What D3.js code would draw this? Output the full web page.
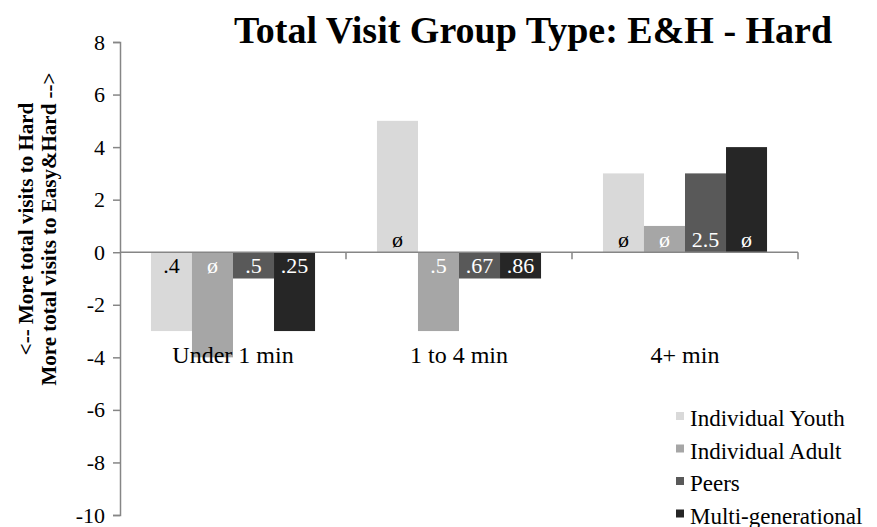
<!DOCTYPE html>
<html>
<head>
<meta charset="utf-8">
<script src="https://cdn.jsdelivr.net/npm/d3@7"></script>
<style>
  html, body { margin: 0; padding: 0; background: #fff; }
  svg { display: block; }
  svg text { font-family: "Liberation Serif", "Times New Roman", serif; }
</style>
</head>
<body>
<svg id="chart" width="877" height="527"></svg>
<script>
// Duration bins along the x axis
const categories = ["Under 1 min", "1 to 4 min", "4+ min"];

// Visitor group types (one bar each per bin)
const seriesNames = ["Individual Youth", "Individual Adult", "Peers", "Multi-generational"];
const seriesColors = ["#d9d9d9", "#a6a6a6", "#595959", "#262626"];
const labelColors = ["#000000", "#ffffff", "#ffffff", "#ffffff"];

// Difference in total visits (Easy&Hard minus Hard), per group type
const youthValues = [-3, 5, 3];
const adultValues = [-4, -3, 1];
const peersValues = [-1, -1, 3];
const multiValues = [-3, -1, 4];

// Text printed on each bar
const youthLabels = [".4", "ø", "ø"];
const adultLabels = ["ø", ".5", "ø"];
const peersLabels = [".5", ".67", "2.5"];
const multiLabels = [".25", ".86", "ø"];

const yTicks = [-10, -8, -6, -4, -2, 0, 2, 4, 6, 8];

const seriesValues = [youthValues, adultValues, peersValues, multiValues];
const seriesLabels = [youthLabels, adultLabels, peersLabels, multiLabels];

const rows = [];
categories.forEach((c, ci) => {
  seriesNames.forEach((s, si) => {
    rows.push({ cat: c, series: s, si, value: seriesValues[si][ci], label: seriesLabels[si][ci] });
  });
});

const svg = d3.select("#chart");
const axisColor = "#868686";
const serif = "'Liberation Serif', 'Times New Roman', serif";

const plot = { left: 120, right: 798, top: 42, bottom: 515 };

const y = d3.scaleLinear().domain([-10, 8]).range([plot.bottom, plot.top]);
const x = d3.scaleBand().domain(categories).range([plot.left, plot.right]).padding(0);
const xs = d3.scaleBand().domain(seriesNames)
  .range([x.bandwidth() * 0.137, x.bandwidth() * 0.863]).padding(0);

// Bars
svg.append("g").selectAll("rect")
  .data(rows)
  .join("rect")
  .attr("x", d => x(d.cat) + xs(d.series))
  .attr("width", xs.bandwidth())
  .attr("y", d => y(Math.max(0, d.value)))
  .attr("height", d => Math.abs(y(d.value) - y(0)))
  .attr("fill", d => seriesColors[d.si]);

// Y axis (plain hyphen for negatives)
const yAxis = d3.axisLeft(y).tickValues(yTicks).tickSize(7).tickPadding(8).tickFormat(d => String(d));
const gy = svg.append("g").attr("transform", `translate(${plot.left},0)`).call(yAxis);
gy.attr("font-family", serif).attr("font-size", 22);
gy.select(".domain").attr("stroke", axisColor).attr("stroke-width", 1.5);
gy.selectAll(".tick line").attr("stroke", axisColor).attr("stroke-width", 1.5);
gy.selectAll(".tick text").attr("fill", "#000");

// Zero baseline with category boundary ticks
const gx = svg.append("g").attr("transform", `translate(0,${y(0)})`);
gx.append("line")
  .attr("x1", plot.left).attr("x2", plot.right)
  .attr("stroke", axisColor).attr("stroke-width", 1.5);
gx.selectAll("line.ctick")
  .data(categories)
  .join("line")
  .attr("class", "ctick")
  .attr("x1", d => x(d) + x.bandwidth()).attr("x2", d => x(d) + x.bandwidth())
  .attr("y1", 0).attr("y2", 7)
  .attr("stroke", axisColor).attr("stroke-width", 1.5);

// Category names, placed below the zero line
svg.append("g").selectAll("text")
  .data(categories)
  .join("text")
  .attr("x", d => x(d) + x.bandwidth() / 2)
  .attr("y", y(0) + 111)
  .attr("text-anchor", "middle")
  .style("font-size", "24px")
  .text(d => d);

// Bar value labels, inside each bar next to the zero line
svg.append("g").selectAll("text")
  .data(rows)
  .join("text")
  .attr("x", d => x(d.cat) + xs(d.series) + xs.bandwidth() / 2)
  .attr("y", d => d.value < 0 ? y(0) + 21 : y(0) - 5)
  .attr("text-anchor", "middle")
  .attr("fill", d => labelColors[d.si])
  .style("font-size", "22px")
  .text(d => d.label);

// Title
svg.append("text")
  .attr("x", 533)
  .attr("y", 43)
  .attr("text-anchor", "middle")
  .style("font-size", "38px")
  .style("font-weight", "bold")
  .text("Total Visit Group Type: E&H - Hard");

// Y axis title (two lines)
const yTitle = svg.append("text")
  .attr("transform", "translate(0,229) rotate(-90)")
  .attr("text-anchor", "middle")
  .style("font-size", "21px")
  .style("font-weight", "bold");
yTitle.append("tspan").attr("x", 0).attr("y", 33).text("<-- More total visits to Hard");
yTitle.append("tspan").attr("x", 0).attr("y", 56).text("More total visits to Easy&Hard -->");

// Legend
const legend = svg.append("g").attr("transform", "translate(676,426)");
const li = legend.selectAll("g")
  .data(seriesNames)
  .join("g")
  .attr("transform", (d, i) => `translate(0,${i * 32.5})`);
li.append("rect")
  .attr("x", 0).attr("y", -14)
  .attr("width", 8).attr("height", 8)
  .attr("fill", (d, i) => seriesColors[i]);
li.append("text")
  .attr("x", 14).attr("y", 0)
  .style("font-size", "23px")
  .text(d => d);
</script>
</body>
</html>
